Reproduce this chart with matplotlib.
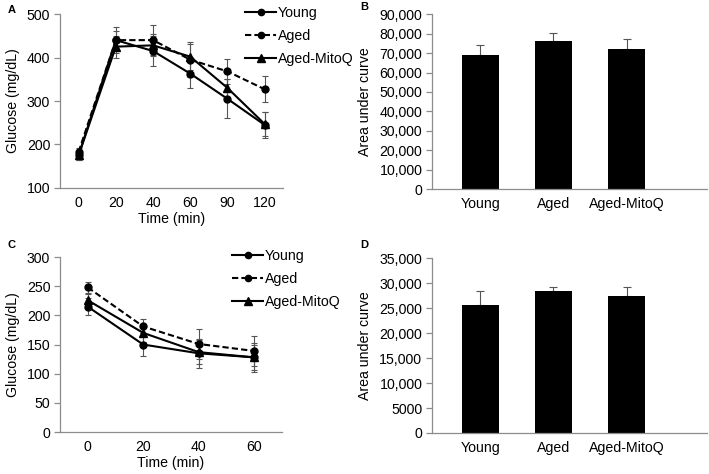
import numpy as np
import matplotlib.pyplot as plt

plt.rcParams['font.family'] = ['Liberation Sans', 'DejaVu Sans']
plt.rcParams['font.size'] = 10

groups = ['Young', 'Aged', 'Aged-MitoQ']

# panel A - glucose tolerance
gtt_time = ['0', '20', '40', '60', '90', '120']
gtt_young = [175, 440, 415, 363, 305, 245]
gtt_young_err = [10, 22, 35, 33, 45, 30]
gtt_aged = [183, 440, 440, 395, 368, 327]
gtt_aged_err = [10, 30, 35, 40, 28, 30]
gtt_mitoq = [175, 425, 428, 402, 330, 247]
gtt_mitoq_err = [10, 25, 25, 30, 20, 28]

# panel B - GTT area under curve
gtt_auc = [69000, 76000, 72000]
gtt_auc_err = [5000, 4500, 5000]

# panel C - insulin tolerance
itt_time = ['0', '20', '40', '60']
itt_young = [215, 150, 135, 128]
itt_young_err = [15, 20, 25, 25]
itt_aged = [248, 181, 151, 139]
itt_aged_err = [10, 12, 25, 25]
itt_mitoq = [226, 170, 137, 128]
itt_mitoq_err = [10, 15, 20, 22]

# panel D - ITT area under curve
itt_auc = [25700, 28500, 27400]
itt_auc_err = [2800, 700, 1800]

spine_col = '#8c8c8c'
err_col = '#555555'
fs = 10.2

fig = plt.figure(figsize=(7.09, 4.74), dpi=100)
axA = fig.add_axes([0.0846, 0.6034, 0.315, 0.367])
axB = fig.add_axes([0.6093, 0.601, 0.388, 0.369])
axC = fig.add_axes([0.0846, 0.0886, 0.313, 0.369])
axD = fig.add_axes([0.6093, 0.0865, 0.388, 0.369])


def style(ax):
    for s in ['top', 'right']:
        ax.spines[s].set_visible(False)
    for s in ['left', 'bottom']:
        ax.spines[s].set_color(spine_col)
        ax.spines[s].set_linewidth(0.9)
    ax.tick_params(axis='y', direction='out', length=4, color=spine_col, width=0.9, pad=3, labelsize=fs)
    ax.tick_params(axis='x', length=0, pad=5.5, labelsize=fs)


def line_panel(ax, times, series, ylim, yticks, fig_leg_pos):
    x = np.arange(len(times))
    styles = [('-', 'o', 'Young'), ('--', 'o', 'Aged'), ('-', '^', 'Aged-MitoQ')]
    handles = []
    for (vals, errs), (ls, mk, lab) in zip(series, styles):
        ax.errorbar(x, vals, yerr=errs, fmt='none', ecolor=err_col, elinewidth=0.8, capsize=2.5, capthick=0.8, zorder=2)
        h, = ax.plot(x, vals, linestyle=ls, marker=mk, color='black', lw=1.5, ms=5 if mk == 'o' else 6,
                     label=lab, zorder=3, dashes=(3, 1.5) if ls == '--' else (None, None))
        handles.append(h)
    ax.set_xlim(-0.5, len(times) - 0.5)
    ax.set_xticks(x)
    ax.set_xticklabels(times)
    ax.set_ylim(*ylim)
    ax.set_yticks(yticks)
    ax.set_xlabel('Time (min)', fontsize=fs, labelpad=2)
    ax.set_ylabel('Glucose (mg/dL)', fontsize=fs, labelpad=5)
    style(ax)
    fig.legend(handles=handles, loc='upper left', bbox_to_anchor=fig_leg_pos, frameon=False,
               handlelength=2.2, handletextpad=0.1, labelspacing=0.65, borderpad=0, borderaxespad=0,
               fontsize=fs, markerscale=0.9)


def bar_panel(ax, vals, errs, ylim, yticks, ylabels):
    x = np.arange(len(groups))
    ax.bar(x, vals, width=0.5, color='black', zorder=2)
    ax.errorbar(x, vals, yerr=[np.zeros(len(errs)), errs], fmt='none', ecolor=err_col, elinewidth=0.8, capsize=3, capthick=0.8, zorder=1)
    ax.set_xlim(-0.66, 3.1)
    ax.set_xticks(x)
    ax.set_xticklabels(groups)
    ax.set_ylim(*ylim)
    ax.set_yticks(yticks)
    ax.set_yticklabels(ylabels)
    ax.set_ylabel('Area under curve', fontsize=fs, labelpad=5)
    style(ax)


line_panel(axA, gtt_time,
           [(gtt_young, gtt_young_err), (gtt_aged, gtt_aged_err), (gtt_mitoq, gtt_mitoq_err)],
           (100, 500), [100, 200, 300, 400, 500], (245 / 709, 1 - 6 / 474))
line_panel(axC, itt_time,
           [(itt_young, itt_young_err), (itt_aged, itt_aged_err), (itt_mitoq, itt_mitoq_err)],
           (0, 300), [0, 50, 100, 150, 200, 250, 300], (232 / 709, 1 - 249 / 474))

b_ticks = list(range(0, 90001, 10000))
bar_panel(axB, gtt_auc, gtt_auc_err, (0, 90000), b_ticks,
          ['0'] + ['{:,}'.format(t) for t in b_ticks[1:]])
d_ticks = list(range(0, 35001, 5000))
bar_panel(axD, itt_auc, itt_auc_err, (0, 35000), d_ticks,
          ['0', '5000'] + ['{:,}'.format(t) for t in d_ticks[2:]])

for lab, (px, py) in zip('ABCD', [(8, 10), (360, 7), (8, 245), (360, 245)]):
    fig.text(px / 709, 1 - py / 474, lab, fontsize=8, fontweight='bold', ha='left', va='center')

fig.savefig('out.png', dpi=100)
